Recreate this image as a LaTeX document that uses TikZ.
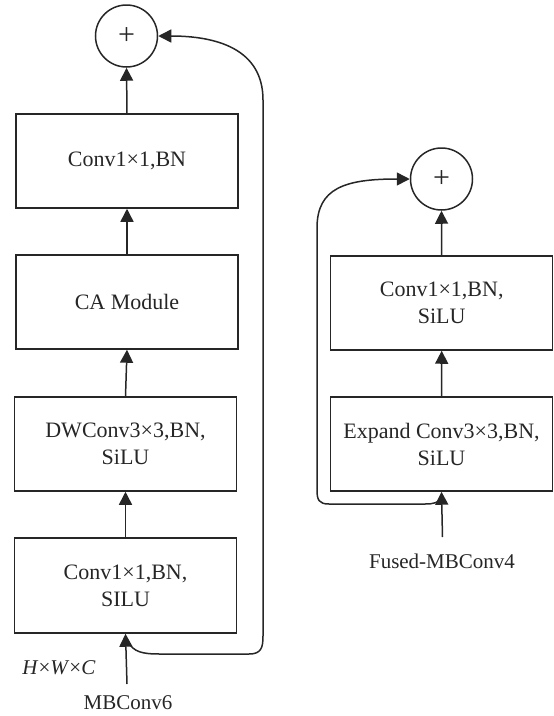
\documentclass[tikz,border=0pt]{standalone}
\usepackage{fontspec}
\setmainfont{Liberation Serif}
\usetikzlibrary{arrows.meta}
\definecolor{ink}{HTML}{262626}
\tikzset{
  blk/.style={draw=ink, line width=1.5pt, minimum width=222pt, minimum height=94pt, align=center, inner sep=0pt, text=ink, font=\fontsize{22}{27}\selectfont},
  sumc/.style={draw=ink, line width=1.5pt, circle, minimum size=62pt, inner sep=0pt, text=ink, font=\fontsize{30}{32}\selectfont},
  lbl/.style={text=ink, inner sep=0pt, font=\fontsize{21}{24}\selectfont},
  conn/.style={draw=ink, line width=1.5pt, -{Triangle[length=13pt,width=13pt]}},
}
\begin{document}
\begin{tikzpicture}[x=1pt,y=-1pt]
\useasboundingbox (0,0) rectangle (554,716);
% left column
\node[sumc] (s1) at (126.5,36) {+};
\node[blk] (b1) at (127,161) {Conv1×1,BN};
\node[blk] (b2) at (127,302) {CA Module};
\node[blk] (b3) at (125.5,444) {DWConv3×3,BN,\\SiLU};
\node[blk, minimum height=95pt] (b4) at (125.5,585.5) {Conv1×1,BN,\\SILU};
\node[lbl] (mb) at (128,703) {MBConv6};
\node[lbl] (hw) at (59,668) {\textit{H}×\textit{W}×\textit{C}};
\coordinate (in1) at (127,684);
\coordinate (j1) at (128,642);
\draw[conn] (b1.north) -- (s1.south);
\draw[conn] (b2.north) -- (b1.south);
\draw[conn] (b3.north) -- (b2.south);
\draw[conn] (b4.north) -- (b3.south);
\draw[conn] (in1) -- (b4.south);
\draw[conn] (j1) .. controls (134,652) and (142,654) .. (160,654) -- (249,654)
  .. controls (261,654) and (263,648) .. (263,636) -- (263,100)
  .. controls (263,48) and (215,36) .. (s1.east);
% right column
\node[sumc] (s2) at (441.5,179) {+};
\node[blk] (r1) at (441.7,303) {Conv1×1,BN,\\SiLU};
\node[blk] (r2) at (441.5,444) {Expand Conv3×3,BN,\\SiLU};
\node[lbl] (fm) at (442,561) {Fused-MBConv4};
\coordinate (in2) at (442.5,537);
\coordinate (j2) at (442,497);
\draw[conn] (r1.north) -- (s2.south);
\draw[conn] (r2.north) -- (r1.south);
\draw[conn] (in2) -- (r2.south);
\draw[conn] (j2) .. controls (439,503) and (433,504) .. (425,504) -- (329,504)
  .. controls (319,504) and (317,500) .. (317,490) -- (317,228)
  .. controls (317,188) and (345,179) .. (s2.west);
\end{tikzpicture}
\end{document}
